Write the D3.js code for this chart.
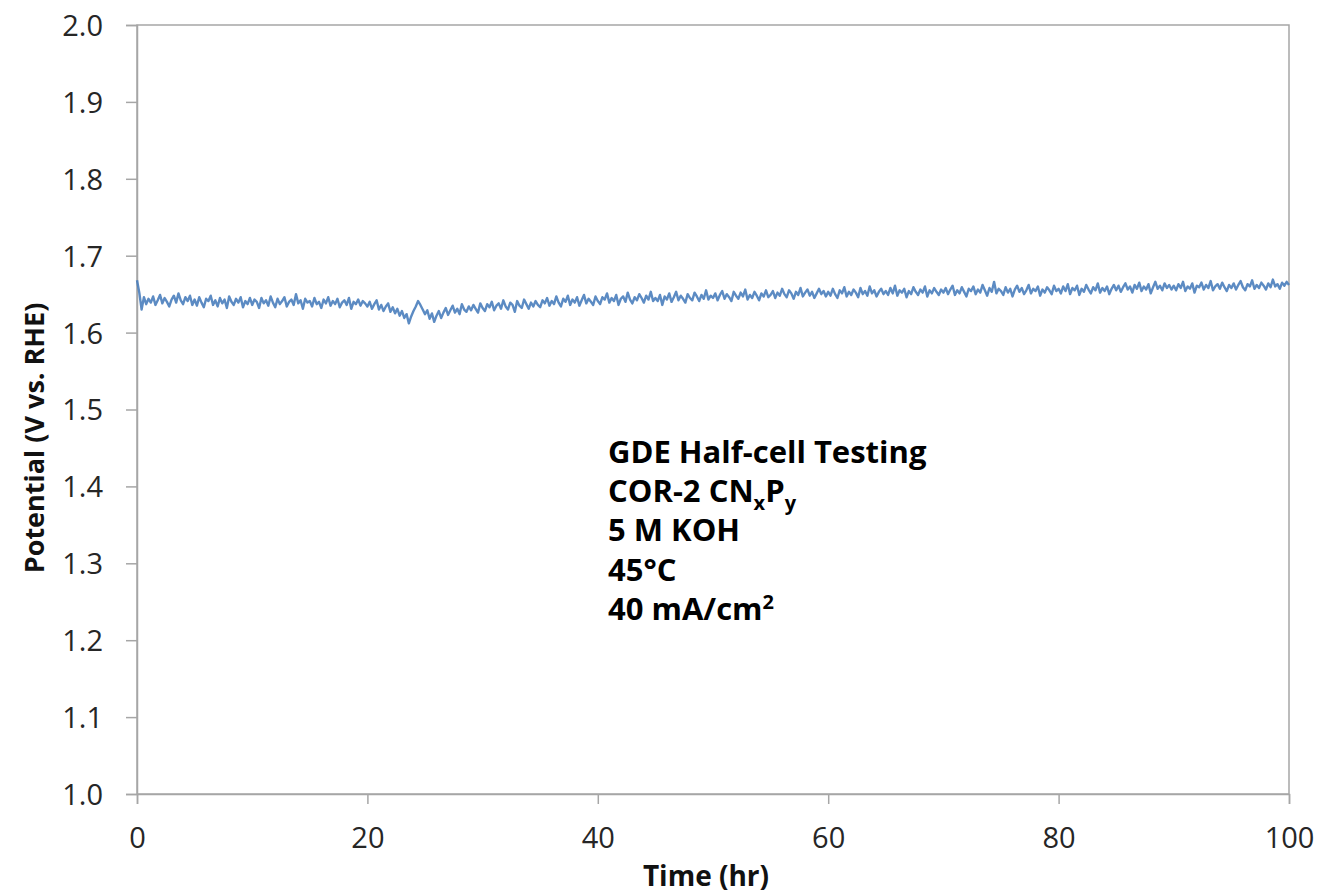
<!DOCTYPE html>
<html>
<head>
<meta charset="utf-8">
<script src="https://cdn.jsdelivr.net/npm/d3@7"></script>
<style>
  body { margin: 0; background: #fff; }
  text { font-family: "Open Sans", "Liberation Sans", sans-serif; }
</style>
</head>
<body>
<svg id="chart" width="1320" height="893"></svg>
<script>
// axis settings
const xTicks = [0, 20, 40, 60, 80, 100];
const yTicks = [1.0, 1.1, 1.2, 1.3, 1.4, 1.5, 1.6, 1.7, 1.8, 1.9, 2.0];
const xLabel = "Time (hr)";
const yLabel = "Potential (V vs. RHE)";
const timeStep = 0.2; // hr between readings

// potential readings (V), one every 0.2 hr (25 per 5 hr row)
const potential = [
  1.668,1.652,1.630,1.646,1.637,1.644,1.639,1.647,1.636,1.642,1.649,1.638,1.645,1.640,1.634,1.643,1.648,1.639,1.651,1.642,1.637,1.646,1.641,1.648,1.636,
  1.643,1.635,1.646,1.639,1.633,1.644,1.641,1.648,1.636,1.642,1.634,1.645,1.638,1.643,1.632,1.647,1.640,1.636,1.644,1.639,1.646,1.633,1.641,1.637,1.645,
  1.636,1.643,1.640,1.632,1.645,1.638,1.642,1.635,1.647,1.639,1.633,1.644,1.637,1.641,1.646,1.634,1.640,1.643,1.636,1.650,1.638,1.642,1.631,1.644,1.639,
  1.641,1.634,1.645,1.637,1.640,1.632,1.643,1.638,1.646,1.635,1.641,1.637,1.644,1.633,1.639,1.642,1.636,1.645,1.631,1.640,1.637,1.643,1.635,1.641,1.638,
  1.634,1.640,1.631,1.637,1.642,1.630,1.636,1.628,1.634,1.638,1.627,1.633,1.625,1.631,1.622,1.628,1.619,1.624,1.612,1.621,1.628,1.634,1.641,1.636,1.630,
  1.624,1.629,1.618,1.625,1.614,1.622,1.628,1.619,1.626,1.632,1.623,1.629,1.635,1.626,1.631,1.624,1.637,1.630,1.627,1.634,1.629,1.636,1.631,1.626,1.638,
  1.632,1.628,1.637,1.633,1.640,1.629,1.635,1.638,1.631,1.642,1.634,1.630,1.639,1.636,1.627,1.641,1.635,1.632,1.643,1.637,1.631,1.639,1.634,1.641,1.636,
  1.633,1.642,1.638,1.645,1.635,1.641,1.637,1.647,1.639,1.634,1.644,1.640,1.648,1.636,1.643,1.639,1.646,1.635,1.642,1.649,1.638,1.644,1.640,1.636,1.647,
  1.641,1.637,1.646,1.643,1.651,1.639,1.645,1.641,1.649,1.636,1.644,1.647,1.640,1.652,1.643,1.638,1.646,1.642,1.650,1.645,1.639,1.648,1.643,1.653,1.641,
  1.645,1.641,1.649,1.636,1.647,1.643,1.651,1.640,1.646,1.653,1.642,1.648,1.644,1.639,1.650,1.645,1.642,1.652,1.647,1.641,1.649,1.644,1.655,1.643,1.648,
  1.645,1.651,1.642,1.649,1.654,1.644,1.650,1.646,1.641,1.653,1.648,1.644,1.652,1.647,1.656,1.643,1.649,1.645,1.653,1.648,1.642,1.651,1.647,1.655,1.646,
  1.649,1.654,1.645,1.652,1.648,1.657,1.650,1.646,1.655,1.651,1.644,1.653,1.649,1.658,1.647,1.652,1.656,1.648,1.653,1.645,1.651,1.657,1.650,1.654,1.647,
  1.653,1.648,1.657,1.650,1.645,1.655,1.651,1.659,1.647,1.653,1.649,1.656,1.652,1.646,1.658,1.650,1.654,1.648,1.660,1.651,1.655,1.647,1.653,1.657,1.650,
  1.654,1.649,1.658,1.651,1.661,1.648,1.655,1.652,1.657,1.646,1.654,1.650,1.659,1.653,1.649,1.656,1.652,1.660,1.647,1.655,1.651,1.658,1.653,1.649,1.656,
  1.652,1.658,1.650,1.656,1.661,1.649,1.655,1.651,1.659,1.653,1.647,1.657,1.654,1.660,1.650,1.656,1.652,1.662,1.655,1.648,1.658,1.653,1.666,1.651,1.657,
  1.654,1.649,1.659,1.652,1.657,1.647,1.656,1.661,1.653,1.658,1.650,1.655,1.662,1.651,1.657,1.654,1.660,1.648,1.656,1.652,1.659,1.655,1.650,1.661,1.654,
  1.657,1.651,1.660,1.654,1.663,1.650,1.658,1.655,1.661,1.649,1.657,1.653,1.662,1.656,1.651,1.659,1.655,1.664,1.652,1.658,1.654,1.660,1.650,1.657,1.662,
  1.655,1.661,1.653,1.659,1.664,1.656,1.660,1.652,1.662,1.657,1.665,1.654,1.660,1.656,1.663,1.651,1.659,1.666,1.657,1.661,1.655,1.664,1.658,1.662,1.656,
  1.661,1.655,1.663,1.658,1.666,1.654,1.660,1.657,1.664,1.652,1.661,1.659,1.665,1.656,1.662,1.658,1.667,1.655,1.660,1.663,1.657,1.665,1.659,1.654,1.662,
  1.658,1.664,1.656,1.662,1.667,1.659,1.655,1.663,1.660,1.668,1.657,1.662,1.658,1.665,1.661,1.656,1.664,1.659,1.669,1.660,1.663,1.657,1.665,1.661,1.666,
  1.662
];

// annotation text block (sub = subscript, sup = superscript)
const noteLines = [
  [{ t: "GDE Half-cell Testing" }],
  [{ t: "COR-2 CN" }, { t: "x", sub: true }, { t: "P" }, { t: "y", sub: true }],
  [{ t: "5 M KOH" }],
  [{ t: "45°C" }],
  [{ t: "40 mA/cm" }, { t: "2", sup: true }]
];

const margin = { left: 137, top: 25, right: 1320 - 1289, bottom: 893 - 794 };
const svg = d3.select("#chart");
const W = +svg.attr("width"), H = +svg.attr("height");
const innerW = W - margin.left - margin.right;
const innerH = H - margin.top - margin.bottom;

const x = d3.scaleLinear().domain([0, 100]).range([0, innerW]);
const y = d3.scaleLinear().domain([1.0, 2.0]).range([innerH, 0]);

const g = svg.append("g").attr("transform", `translate(${margin.left},${margin.top})`);

const axisColor = "#a6a6a6";

// plot frame (top and right edges)
g.append("rect")
  .attr("x", 0).attr("y", 0)
  .attr("width", innerW).attr("height", innerH)
  .attr("fill", "none")
  .attr("stroke", axisColor)
  .attr("stroke-width", 1.5);

const xAxis = g.append("g")
  .attr("transform", `translate(0,${innerH})`)
  .call(d3.axisBottom(x).tickValues(xTicks).tickSize(10).tickPadding(23).tickFormat(d3.format("d")));
const yAxis = g.append("g")
  .call(d3.axisLeft(y).tickValues(yTicks).tickSize(11).tickPadding(23).tickFormat(d3.format(".1f")));

[xAxis, yAxis].forEach(a => {
  a.select(".domain").attr("stroke", axisColor).attr("stroke-width", 1.5);
  a.selectAll(".tick line").attr("stroke", axisColor).attr("stroke-width", 1.5);
  a.selectAll(".tick text")
    .attr("fill", "#262626")
    .style("font-size", "29px")
    .style("font-family", "'Open Sans', sans-serif");
});
yAxis.selectAll(".tick text").attr("dy", "0.36em");

// data line
const data = potential.map((v, i) => ({ t: i * timeStep, v }));
const line = d3.line().x(d => x(d.t)).y(d => y(d.v));
g.append("path")
  .datum(data)
  .attr("fill", "none")
  .attr("stroke", "#4a7ebd")
  .attr("stroke-opacity", 0.9)
  .attr("stroke-width", 2.4)
  .attr("stroke-linejoin", "round")
  .attr("d", line);

// axis titles
svg.append("text")
  .attr("x", 706)
  .attr("y", 886)
  .attr("text-anchor", "middle")
  .attr("font-weight", "bold")
  .attr("font-size", 28)
  .attr("fill", "#111")
  .text(xLabel);

svg.append("text")
  .attr("transform", `translate(44,438) rotate(-90)`)
  .attr("text-anchor", "middle")
  .attr("font-weight", "bold")
  .attr("font-size", 27)
  .attr("fill", "#111")
  .text(yLabel);

// annotation
const note = svg.append("text")
  .attr("font-weight", "bold")
  .attr("font-size", 31)
  .attr("fill", "#000");
noteLines.forEach((parts, i) => {
  const row = note.append("tspan").attr("x", 608).attr("y", 463 + i * 39.2);
  parts.forEach((p, j) => {
    const s = row.append("tspan").text(p.t);
    const prev = parts[j - 1];
    if (p.sub) s.attr("font-size", 20).attr("dy", 8);
    else if (p.sup) s.attr("font-size", 20).attr("dy", -11);
    else if (prev && prev.sub) s.attr("dy", -8);
  });
});
</script>
</body>
</html>
